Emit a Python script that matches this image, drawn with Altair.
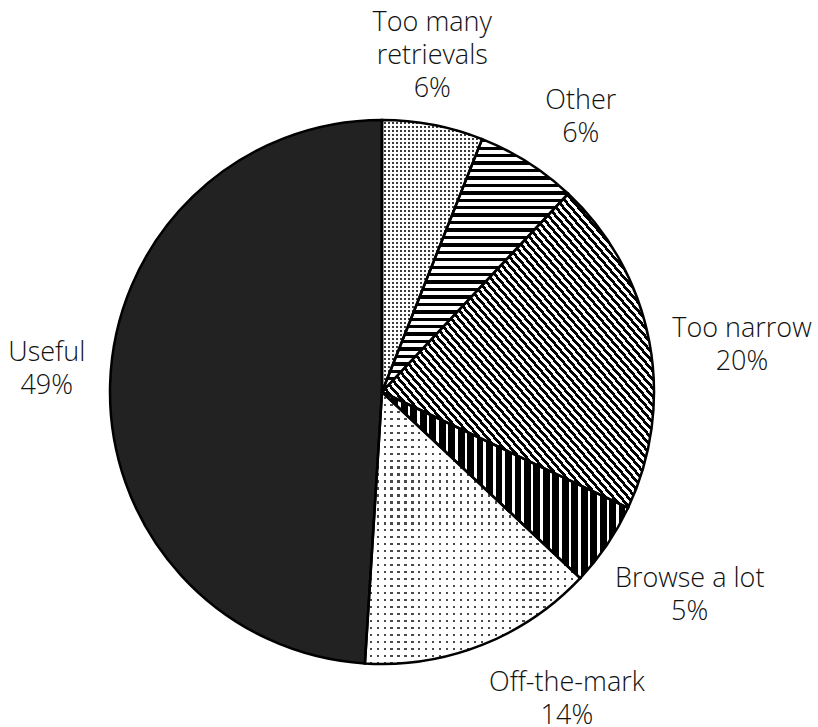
import math
import altair as alt
import pandas as pd

# ---- data ----
categories = ["Too many retrievals", "Other", "Too narrow", "Browse a lot", "Off-the-mark", "Useful"]
values = [6, 6, 20, 5, 14, 49]
label_lines = [["Too many", "retrievals", "6%"], ["Other", "6%"], ["Too narrow", "20%"],
               ["Browse a lot", "5%"], ["Off-the-mark", "14%"], ["Useful", "49%"]]

# ---- layout (label block centres: degrees clockwise from top, pixels from centre) ----
label_angle_deg = [8.5, 35.9, 82.6, 123.5, 149.0, 273.8]
label_radius_px = [340, 339, 363, 369, 359, 336]
R = 272
LINE_H = 33

total = sum(values)
starts, ends = [], []
acc = 0
for v in values:
    starts.append(acc)
    acc += v
    ends.append(acc)

# Vega puts the first line of a multi-line text at the anchor: move the anchor
# up by half the block height so that the block is centred on its position.
anchor_ang, anchor_r = [], []
for ang, r, lines in zip(label_angle_deg, label_radius_px, label_lines):
    t = math.radians(ang)
    x = r * math.sin(t)
    y = -r * math.cos(t) - (len(lines) - 1) / 2 * LINE_H
    anchor_r.append(math.hypot(x, y))
    anchor_ang.append(math.degrees(math.atan2(x, -y)) % 360)

df = pd.DataFrame({
    "cat": categories,
    "value": values,
    "start": starts,
    "end": ends,
    "label": ["\n".join(l) for l in label_lines],
    "lang": [a / 360 * total for a in anchor_ang],
    "lr": anchor_r,
})


def bbox(a0, a1):
    """bounding box (w, h) of a pie sector, fractions of the circle."""
    pts = [(0.0, 0.0)]
    for f in [a0, a1] + [k / 4 for k in range(5) if a0 < k / 4 < a1]:
        t = 2 * math.pi * f
        pts.append((R * math.sin(t), -R * math.cos(t)))
    xs = [p[0] for p in pts]
    ys = [p[1] for p in pts]
    return max(xs) - min(xs), max(ys) - min(ys)


def stripes(n, frac, c1, c2, x1, y1, x2, y2):
    stops = []
    for i in range(n):
        a = i / n
        b = (i + frac) / n
        c = (i + 1) / n
        stops += [{"offset": round(a, 5), "color": c1}, {"offset": round(b, 5), "color": c1},
                  {"offset": round(b, 5), "color": c2}, {"offset": round(c, 5), "color": c2}]
    return {"gradient": "linear", "x1": x1, "y1": y1, "x2": x2, "y2": y2, "stops": stops}


theta_scale = alt.Scale(domain=[0, total], range=[0, 2 * math.pi])
base = alt.Chart(df)
layers = []
CLEAR = "rgba(255,255,255,0)"

for i, cat in enumerate(categories):
    a0, a1 = starts[i] / total, ends[i] / total
    w, h = bbox(a0, a1)
    sub = base.transform_filter(alt.datum.cat == cat).encode(
        theta=alt.Theta("start:Q", scale=theta_scale), theta2="end:Q")
    if cat in ("Too many retrievals", "Off-the-mark"):
        period, dot, ink = (4.0, 0.5, "#3a3a3a") if cat == "Too many retrievals" else (7.0, 0.68, "#4a4a4a")
        layers.append(sub.mark_arc(radius=R, fill=ink, stroke=None))
        layers.append(sub.mark_arc(radius=R, stroke=None,
                                   fill=stripes(max(1, round(h / period)), dot, "white", CLEAR, 0, 0, 0, 1)))
        layers.append(sub.mark_arc(radius=R, stroke=None,
                                   fill=stripes(max(1, round(w / period)), dot, "white", CLEAR, 0, 0, 1, 0)))
    elif cat == "Other":
        layers.append(sub.mark_arc(radius=R, fill=stripes(round(h / 7.5), 0.45, "black", "white", 0, 0, 0, 1)))
    elif cat == "Too narrow":
        layers.append(sub.mark_arc(radius=R, fill=stripes(round(2 * w / 7.5), 0.5, "black", "white", 0, 1, 1, 0)))
    elif cat == "Browse a lot":
        layers.append(sub.mark_arc(radius=R, fill=stripes(round(w / 9.4), 0.72, "black", "white", 0, 0, 1, 0)))
    else:
        layers.append(sub.mark_arc(radius=R, fill="#222222"))

outline = base.mark_arc(radius=R, fillOpacity=0, stroke="black", strokeWidth=2.5).encode(
    theta=alt.Theta("start:Q", scale=theta_scale), theta2="end:Q")

labels = base.mark_text(font="Open Sans", fontWeight=300, fontSize=27, lineBreak="\n",
                        lineHeight=LINE_H, align="center", baseline="middle", color="#111111").encode(
    theta=alt.Theta("lang:Q", scale=theta_scale),
    radius=alt.Radius("lr:Q", scale=None),
    text="label:N",
)

chart = alt.layer(*layers, outline, labels).properties(
    width=764, height=670,
    padding={"left": 0, "top": 57, "right": 54, "bottom": 0},
    autosize=alt.AutoSizeParams(type="none"),
    background="white",
).configure_view(stroke=None)

chart.save("out.html", embed_options={"renderer": "svg", "actions": False})
